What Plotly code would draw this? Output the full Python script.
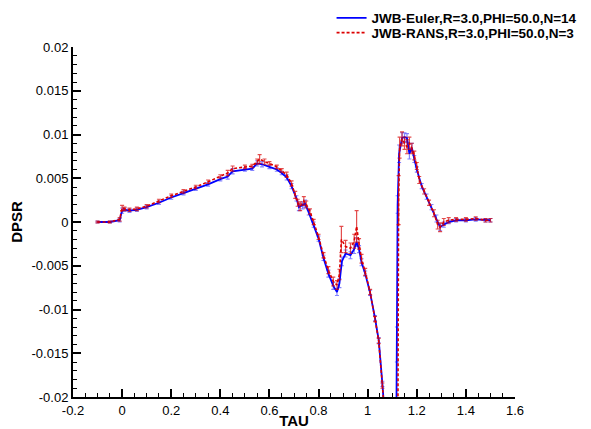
import plotly.graph_objects as go

# ---- data ----
euler_x = [-0.1, -0.05, -0.01, 0.0, 0.01, 0.03, 0.06, 0.1, 0.15, 0.2, 0.25, 0.3, 0.35, 0.4, 0.43, 0.45,
           0.5, 0.53, 0.55, 0.57, 0.6, 0.63, 0.65, 0.67, 0.69, 0.71, 0.72, 0.735, 0.745, 0.76, 0.78, 0.8,
           0.82, 0.84, 0.86, 0.875, 0.885, 0.895, 0.91, 0.93, 0.945, 0.955, 0.965, 0.975, 0.99, 1.01,
           1.03, 1.045, 1.06, 1.075, 1.095, 1.115, 1.119, 1.122, 1.128, 1.14, 1.15, 1.16, 1.17, 1.18,
           1.19, 1.2, 1.22, 1.24, 1.26, 1.28, 1.295, 1.31, 1.33, 1.36, 1.4, 1.44, 1.48, 1.5]
euler_y = [0.0, 0.0, 0.0002, 0.0013, 0.0014, 0.0013, 0.0014, 0.0017, 0.0022, 0.0028, 0.0033, 0.0038, 0.0043,
           0.0049, 0.0052, 0.0058, 0.0060, 0.0061, 0.0067, 0.0066, 0.0063, 0.0060, 0.0056, 0.0051, 0.0041,
           0.0027, 0.0017, 0.0019, 0.0021, 0.0011, -0.0003, -0.0019, -0.0041, -0.0059, -0.0073, -0.0080,
           -0.0070, -0.0045, -0.0036, -0.0038, -0.0031, -0.0023, -0.0031, -0.0046, -0.0059, -0.0081,
           -0.0110, -0.0135, -0.0185, -0.0250, -0.0320, -0.0320, -0.0140, 0.0020, 0.0078, 0.0096, 0.0097,
           0.0096, 0.0078, 0.0085, 0.0072, 0.0060, 0.0041, 0.0029, 0.0017, 0.0004, -0.0006, -0.0003,
           0.0000, 0.0002, 0.0002, 0.0003, 0.0002, 0.0002]
euler_err = [0.0001, 0.0001, 0.0002, 0.0003, 0.0002, 0.0002, 0.0002, 0.0002, 0.0002, 0.0002, 0.0002, 0.0002,
             0.0002, 0.0002, 0.0003, 0.0003, 0.0002, 0.0002, 0.0003, 0.0003, 0.0002, 0.0002, 0.0002, 0.0003,
             0.0003, 0.0003, 0.0004, 0.0004, 0.0004, 0.0003, 0.0003, 0.0003, 0.0003, 0.0004, 0.0004, 0.0004,
             0.0005, 0.0005, 0.0004, 0.0004, 0.0005, 0.0005, 0.0004, 0.0004, 0.0003, 0.0003, 0.0003, 0.0003,
             0.0003, 0.0003, 0.0003, 0.0003, 0.0020, 0.0010, 0.0010, 0.0006, 0.0005, 0.0005, 0.0006, 0.0005,
             0.0004, 0.0003, 0.0003, 0.0003, 0.0003, 0.0004, 0.0004, 0.0003, 0.0002, 0.0002, 0.0002, 0.0002,
             0.0002, 0.0002]

rans_x = [-0.1, -0.05, -0.01, 0.0, 0.01, 0.03, 0.06, 0.1, 0.15, 0.2, 0.25, 0.3, 0.35, 0.4, 0.43, 0.45, 0.5,
          0.53, 0.55, 0.56, 0.58, 0.6, 0.63, 0.65, 0.67, 0.69, 0.705, 0.715, 0.725, 0.74, 0.75, 0.765, 0.78,
          0.8, 0.82, 0.84, 0.86, 0.875, 0.885, 0.893, 0.91, 0.93, 0.945, 0.955, 0.965, 0.975, 0.99, 1.01,
          1.03, 1.045, 1.06, 1.075, 1.095, 1.122, 1.126, 1.13, 1.14, 1.15, 1.16, 1.17, 1.18, 1.19, 1.2,
          1.21, 1.23, 1.25, 1.27, 1.285, 1.295, 1.31, 1.33, 1.36, 1.4, 1.44, 1.48, 1.5]
rans_y = [0.0, 0.0, 0.0003, 0.0016, 0.0015, 0.0014, 0.0015, 0.0018, 0.0024, 0.0030, 0.0035, 0.0040, 0.0046,
          0.0052, 0.0056, 0.0061, 0.0063, 0.0064, 0.0069, 0.0072, 0.0069, 0.0067, 0.0063, 0.0059, 0.0054,
          0.0044, 0.0031, 0.0022, 0.0018, 0.0024, 0.0020, 0.0012, 0.0000, -0.0017, -0.0038, -0.0055,
          -0.0068, -0.0072, -0.0060, -0.0020, -0.0028, -0.0030, -0.0022, -0.0005, -0.0025, -0.0042,
          -0.0057, -0.0080, -0.0111, -0.0136, -0.0187, -0.0252, -0.0320, -0.0320, 0.0025, 0.0085,
          0.0095, 0.0090, 0.0086, 0.0090, 0.0084, 0.0076, 0.0064, 0.0048, 0.0035, 0.0022, 0.0010,
          -0.0003, -0.0006, 0.0000, 0.0002, 0.0003, 0.0003, 0.0004, 0.0002, 0.0002]
rans_err = [0.0001, 0.0001, 0.0002, 0.0003, 0.0002, 0.0002, 0.0002, 0.0002, 0.0002, 0.0002, 0.0002, 0.0002,
            0.0002, 0.0002, 0.0003, 0.0003, 0.0002, 0.0002, 0.0003, 0.0005, 0.0003, 0.0002, 0.0002, 0.0002,
            0.0003, 0.0003, 0.0004, 0.0004, 0.0005, 0.0005, 0.0004, 0.0003, 0.0003, 0.0003, 0.0003, 0.0004,
            0.0005, 0.0005, 0.0006, 0.0015, 0.0007, 0.0006, 0.0008, 0.0018, 0.0006, 0.0005, 0.0004, 0.0003,
            0.0003, 0.0003, 0.0003, 0.0003, 0.0003, 0.0003, 0.0028, 0.0012, 0.0008, 0.0007, 0.0008, 0.0007,
            0.0006, 0.0005, 0.0004, 0.0004, 0.0003, 0.0003, 0.0004, 0.0005, 0.0005, 0.0004, 0.0003, 0.0002,
            0.0002, 0.0002, 0.0002, 0.0002]

euler_name = "JWB-Euler,R=3.0,PHI=50.0,N=14"
rans_name = "JWB-RANS,R=3.0,PHI=50.0,N=3"

x_ticks = [-0.2, 0, 0.2, 0.4, 0.6, 0.8, 1, 1.2, 1.4, 1.6]
x_labels = ["-0.2", "0", "0.2", "0.4", "0.6", "0.8", "1", "1.2", "1.4", "1.6"]
y_ticks = [-0.02, -0.015, -0.01, -0.005, 0, 0.005, 0.01, 0.015, 0.02]
y_labels = ["-0.02", "-0.015", "-0.01", "-0.005", "0", "0.005", "0.01", "0.015", "0.02"]

FONT = "Liberation Sans, Arial, Helvetica, sans-serif"

fig = go.Figure()
fig.add_trace(go.Scatter(
    x=euler_x, y=euler_y, mode="lines", name=euler_name, legend="legend",
    line=dict(color="rgb(0,0,255)", width=1.8),
    error_y=dict(type="data", array=euler_err, color="rgba(50,50,255,0.6)", thickness=1.2, width=2),
))
fig.add_trace(go.Scatter(
    x=rans_x, y=rans_y, mode="lines", name=rans_name, legend="legend2",
    line=dict(color="rgb(220,0,0)", width=1.6, dash="3px,2px"),
    error_y=dict(type="data", array=rans_err, color="rgba(215,0,0,0.7)", thickness=1.2, width=2),
))

axis_common = dict(
    showgrid=False, zeroline=False, showline=True, linecolor="black", linewidth=2,
    ticks="inside", ticklen=8, tickwidth=1.5, tickcolor="black",
    tickfont=dict(family=FONT, size=13, color="black"),
    mirror=False,
)

fig.update_xaxes(
    range=[-0.2, 1.6], tickvals=x_ticks, ticktext=x_labels,
    minor=dict(dtick=0.05, tick0=0, ticks="inside", ticklen=4, tickwidth=1, tickcolor="black"),
    title=dict(text="TAU", font=dict(family=FONT, size=15, color="black", weight="bold"), standoff=0),
    **axis_common,
)
fig.update_yaxes(
    range=[-0.02, 0.02], tickvals=y_ticks, ticktext=y_labels,
    minor=dict(dtick=0.001, tick0=0, ticks="inside", ticklen=4, tickwidth=1, tickcolor="black"),
    title=dict(text="DPSR", font=dict(family=FONT, size=15, color="black", weight="bold"), standoff=6),
    **axis_common,
)

legend_style = dict(
    xref="container", yref="container", xanchor="left", yanchor="middle",
    font=dict(family=FONT, size=13.5, color="black", weight="bold"),
    bgcolor="rgba(0,0,0,0)", borderwidth=0, itemwidth=30,
)

# page body has an 8px margin: figure is offset by (8, 8)
fig.update_layout(
    width=583, height=421,
    margin=dict(l=65, r=76, t=39, b=32, autoexpand=False),
    paper_bgcolor="white", plot_bgcolor="white",
    showlegend=True,
    legend=dict(x=0.555, y=0.976, **legend_style),
    legend2=dict(x=0.555, y=0.941, **legend_style),
)

fig.write_html("out.html")
